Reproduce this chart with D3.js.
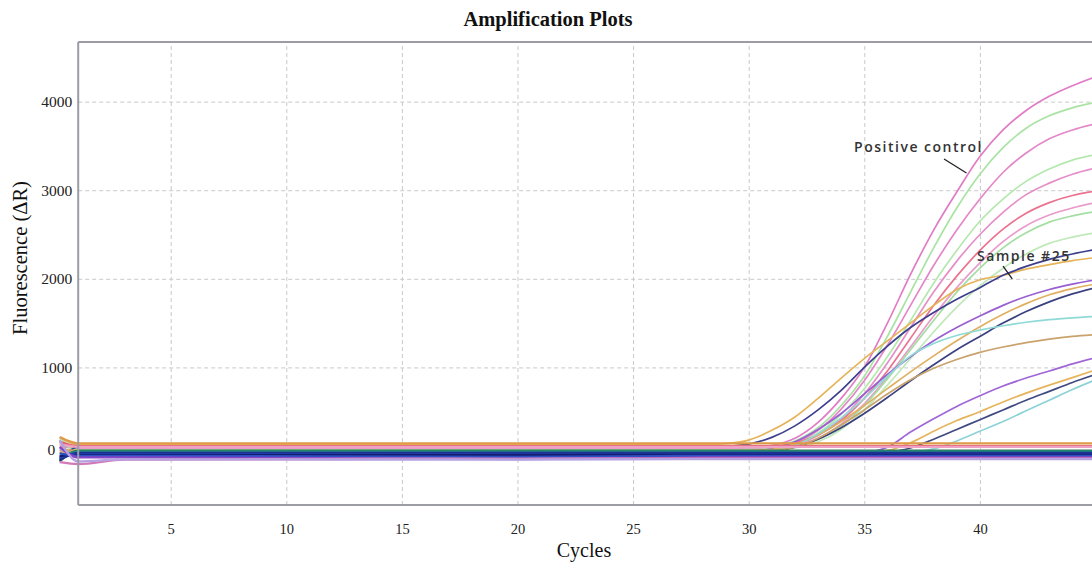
<!DOCTYPE html>
<html>
<head>
<meta charset="utf-8">
<script src="https://cdn.jsdelivr.net/npm/d3@7"></script>
<style>
html,body{margin:0;padding:0;background:#fff;}
svg{display:block;}
</style>
</head>
<body>
<svg id="chart" width="1092" height="564"></svg>
<script>
// ---------------- DATA ----------------
const cycles = [0.2, 1, 3, 20, 27, 28, 29, 30, 31, 32, 33, 34, 35, 36, 37, 38, 39, 40, 41, 42, 43, 44, 45];
const xTicks = [5, 10, 15, 20, 25, 30, 35, 40];
const yTicks = [0, 1000, 2000, 3000, 4000];

// amplifying wells
const positiveControl = [170, 90, 90, 90, 90, 90, 90, 95, 120, 200, 380, 650, 1000, 1500, 2050, 2550, 2980, 3380, 3680, 3900, 4060, 4180, 4280];
const green1  = [120, 80, 80, 80, 80, 80, 80, 85, 100, 170, 320, 570, 900, 1350, 1850, 2350, 2800, 3180, 3480, 3700, 3840, 3930, 3990];
const pink2   = [60, 70, 70, 70, 70, 70, 70, 72, 90, 150, 290, 530, 850, 1250, 1700, 2150, 2550, 2900, 3200, 3420, 3580, 3680, 3750];
const green2  = [200, 90, 90, 90, 90, 90, 90, 92, 100, 140, 260, 470, 760, 1120, 1530, 1950, 2320, 2650, 2900, 3100, 3240, 3340, 3400];
const pink3   = [-20, 60, 60, 60, 60, 60, 60, 62, 75, 120, 230, 420, 700, 1050, 1450, 1850, 2200, 2500, 2750, 2950, 3080, 3180, 3250];
const salmon4 = [100, 100, 100, 100, 100, 100, 100, 102, 110, 150, 240, 400, 650, 960, 1330, 1700, 2030, 2320, 2560, 2740, 2860, 2940, 2990];
const pink5   = [30, 80, 80, 80, 80, 80, 80, 82, 90, 120, 200, 360, 590, 890, 1230, 1580, 1900, 2180, 2420, 2600, 2720, 2800, 2860];
const green3  = [150, 70, 70, 70, 70, 70, 70, 72, 80, 110, 190, 340, 570, 870, 1200, 1530, 1850, 2120, 2350, 2520, 2640, 2710, 2760];
const green4  = [-40, 60, 60, 60, 60, 60, 60, 60, 65, 90, 160, 300, 520, 800, 1100, 1400, 1680, 1920, 2120, 2280, 2400, 2470, 2520];
const orange1 = [210, 130, 130, 130, 130, 130, 140, 180, 290, 440, 650, 880, 1100, 1300, 1500, 1700, 1880, 1990, 2040, 2110, 2160, 2205, 2240];
const sample25 = [-60, 100, 100, 100, 100, 100, 110, 135, 210, 340, 520, 740, 1000, 1240, 1450, 1620, 1770, 1900, 2040, 2140, 2220, 2280, 2330];
const purple1 = [-30, 50, 50, 50, 50, 50, 50, 55, 80, 160, 300, 480, 700, 920, 1120, 1300, 1450, 1580, 1700, 1800, 1880, 1940, 1990];
const orange2 = [90, 60, 60, 60, 60, 60, 60, 62, 75, 130, 240, 390, 570, 760, 950, 1130, 1300, 1460, 1600, 1720, 1820, 1890, 1940];
const navy2   = [-50, 40, 40, 40, 40, 40, 40, 42, 55, 100, 190, 320, 480, 660, 850, 1030, 1200, 1350, 1500, 1630, 1740, 1830, 1900];
const teal1   = [20, 50, 50, 50, 50, 50, 50, 52, 60, 120, 250, 430, 650, 900, 1130, 1270, 1360, 1420, 1470, 1510, 1540, 1560, 1575];
const tan1    = [60, 50, 50, 50, 50, 50, 50, 52, 60, 100, 200, 350, 520, 700, 860, 990, 1090, 1170, 1230, 1280, 1320, 1350, 1370];
const purple2 = [0, 30, 30, 30, 30, 30, 30, 30, 30, 30, 30, 30, 40, 100, 270, 420, 560, 680, 790, 880, 960, 1040, 1110];
const orange3 = [40, 30, 30, 30, 30, 30, 30, 30, 30, 30, 30, 30, 30, 60, 150, 280, 400, 500, 610, 710, 800, 885, 970];
const navy3   = [-10, 20, 20, 20, 20, 20, 20, 20, 20, 20, 20, 20, 20, 40, 90, 190, 300, 410, 520, 630, 730, 830, 920];
const teal2   = [80, 20, 20, 20, 20, 20, 20, 20, 20, 20, 20, 20, 20, 20, 40, 80, 170, 280, 390, 510, 630, 750, 860];

// non-amplifying (flat) wells
const flatOrange = [214, 143, 143, 143, 143, 143, 143, 143, 143, 143, 143, 143, 143, 143, 143, 143, 143, 143, 143, 143, 143, 143, 143];
const flatRed    = [160, 112, 112, 112, 112, 112, 112, 112, 112, 112, 112, 112, 112, 112, 112, 112, 112, 112, 112, 112, 112, 112, 112];
const flatPink   = [130, 102, 102, 102, 102, 102, 102, 102, 102, 102, 102, 102, 102, 102, 102, 102, 102, 102, 102, 102, 102, 102, 102];
const flatGreen  = [-60, 60, 60, 60, 60, 60, 60, 60, 60, 60, 60, 60, 60, 60, 60, 60, 60, 60, 60, 60, 60, 60, 60];
const flatTeal   = [-30, 48, 48, 48, 48, 48, 48, 48, 48, 48, 48, 48, 48, 48, 48, 48, 48, 48, 48, 48, 48, 48, 48];
const flatNavy   = [-45, 36, 36, 36, 36, 36, 36, 36, 36, 36, 36, 36, 36, 36, 36, 36, 36, 36, 36, 36, 36, 36, 36];
const flatBlue   = [-20, 24, 24, 24, 24, 24, 24, 24, 24, 24, 24, 24, 24, 24, 24, 24, 24, 24, 24, 24, 24, 24, 24];
const flatDark   = [0, 12, 12, 12, 14, 14, 14, 14, 14, 14, 14, 14, 14, 14, 14, 14, 14, 14, 14, 14, 14, 14, 14];
const flatBlue2  = [30, 2, 2, -10, 0, 2, 2, 2, 2, 2, 2, 2, 2, 2, 2, 2, 2, 2, 2, 2, 2, 2, 2];
const flatPurple = [100, -15, -15, -35, -20, -15, -15, -15, -15, -15, -15, -15, -15, -15, -15, -15, -15, -15, -15, -15, -15, -15, -15];
const flatPinkLo = [-68, -90, -40, -30, -28, -28, -28, -28, -28, -28, -28, -28, -28, -28, -28, -28, -28, -28, -28, -28, -28, -28, -28];
const flatLav    = [180, -60, -38, -40, -35, -35, -35, -35, -35, -35, -35, -35, -35, -35, -35, -35, -35, -35, -35, -35, -35, -35, -35];

const amplifying = [positiveControl, green1, pink2, green2, pink3, salmon4, pink5, green3, green4,
  orange1, sample25, purple1, orange2, navy2, teal1, tan1, purple2, orange3, navy3, teal2];
const amplifyingColors = ["#e07cc6", "#a9e3a3", "#e487c8", "#b4e8ae", "#e58fc9", "#ea7390", "#e99ccc", "#a3dea2", "#bfe9b8",
  "#e6b458", "#3d3f8e", "#9a5ed3", "#e0b060", "#3b4180", "#8fdad6", "#c9a26c", "#a066d6", "#e6b45c", "#404a80", "#8cd2d6"];
const flats = [flatOrange, flatRed, flatPink, flatGreen, flatTeal, flatNavy, flatBlue, flatDark, flatBlue2, flatPurple, flatPinkLo, flatLav];
const flatColors = ["#de9a48", "#e4606e", "#f0a2c6", "#2f7a4e", "#1e8b88", "#1d2b86", "#2741b4", "#121d70", "#2e4fc2", "#8646c6", "#d27ab8", "#b4a2e2"];

// annotations
const annotationText = ["Positive control", "Sample #25"];
const annotationAt = [[34.56, 3431], [39.88, 2204]];
const arrowFrom = [[38.45, 3352], [41.0, 2144]];
const arrowTo = [[39.42, 3194], [41.4, 1998]];

// ---------------- CHART ----------------
const svg = d3.select("#chart");
const mLeft = 78.2, mRight = 1095.5, mTop = 42, mBottom = 505;
const x = d3.scaleLinear().domain([1, 45]).range([mLeft, mRight]);
const y = d3.scaleLinear().domain([-553, 4673]).range([mBottom, mTop]);
const serif = "'Liberation Serif','Times New Roman',serif";

// grid
const gx = svg.append("g").attr("transform", `translate(0,${mBottom})`)
  .call(d3.axisBottom(x).tickValues(xTicks).tickSize(-(mBottom - mTop)).tickFormat(""));
gx.select(".domain").remove();
gx.selectAll("line").attr("stroke", "#c9c9c9").attr("stroke-dasharray", "4,3");
const gy = svg.append("g").attr("transform", `translate(${mLeft},0)`)
  .call(d3.axisLeft(y).tickValues(yTicks).tickSize(-(mRight - mLeft)).tickFormat(""));
gy.select(".domain").remove();
gy.selectAll("line").attr("stroke", "#c9c9c9").attr("stroke-dasharray", "4,3");

// tick labels
const ax = svg.append("g").attr("transform", `translate(0,${mBottom})`)
  .call(d3.axisBottom(x).tickValues(xTicks).tickSize(0).tickPadding(19).tickFormat(d3.format("d")));
ax.select(".domain").remove();
ax.selectAll("text").attr("font-family", serif).attr("font-size", 14.5).attr("fill", "#222");
const ay = svg.append("g").attr("transform", `translate(${mLeft},0)`)
  .call(d3.axisLeft(y).tickValues(yTicks).tickSize(0).tickPadding(6).tickFormat(d3.format("d")));
ay.select(".domain").remove();
ay.selectAll("text").attr("font-family", serif).attr("font-size", 15.5).attr("fill", "#222");
// the zero label sits left of the starting fan of traces
ay.selectAll(".tick").filter(d => d === 0).select("text").attr("x", -23).attr("dy", "-0.12em");

// curves
const line = d3.line().x((d, i) => x(cycles[i])).y(d => y(d)).curve(d3.curveMonotoneX);
svg.append("g").selectAll("path").data(amplifying).join("path")
  .attr("d", line).attr("fill", "none")
  .attr("stroke", (d, i) => amplifyingColors[i]).attr("stroke-width", 1.7);
svg.append("g").selectAll("path").data(flats).join("path")
  .attr("d", line).attr("fill", "none")
  .attr("stroke", (d, i) => flatColors[i]).attr("stroke-width", 2.3);

// frame
const frame = svg.append("g").attr("stroke", "#9c9ca4").attr("stroke-width", 2);
frame.append("line").attr("x1", x(1)).attr("x2", x(1)).attr("y1", y.range()[1]).attr("y2", y.range()[0]);
frame.append("line").attr("x1", x(1)).attr("x2", x(45)).attr("y1", y.range()[1]).attr("y2", y.range()[1]);
frame.append("line").attr("x1", x(1)).attr("x2", x(45)).attr("y1", y.range()[0]).attr("y2", y.range()[0]);

// annotations
annotationText.forEach((t, i) => {
  svg.append("text").attr("x", x(annotationAt[i][0])).attr("y", y(annotationAt[i][1]))
    .attr("font-family", "'Open Sans',sans-serif").attr("font-weight", 600)
    .attr("font-size", 14).attr("letter-spacing", 1.5).attr("fill", "#333").text(t);
  svg.append("line").attr("x1", x(arrowFrom[i][0])).attr("y1", y(arrowFrom[i][1]))
    .attr("x2", x(arrowTo[i][0])).attr("y2", y(arrowTo[i][1]))
    .attr("stroke", "#222").attr("stroke-width", 1.3);
});

// titles
svg.append("text").attr("x", 548).attr("y", 26).attr("text-anchor", "middle")
  .attr("font-family", serif).attr("font-weight", "bold").attr("font-size", 20.5).attr("fill", "#111")
  .text("Amplification Plots");
svg.append("text").attr("x", 584).attr("y", 557).attr("text-anchor", "middle")
  .attr("font-family", serif).attr("font-size", 20).attr("fill", "#111").text("Cycles");
svg.append("text").attr("transform", "translate(27,258) rotate(-90)").attr("text-anchor", "middle")
  .attr("font-family", serif).attr("font-size", 20.5).attr("fill", "#111").text("Fluorescence (ΔR)");
</script>
</body>
</html>
